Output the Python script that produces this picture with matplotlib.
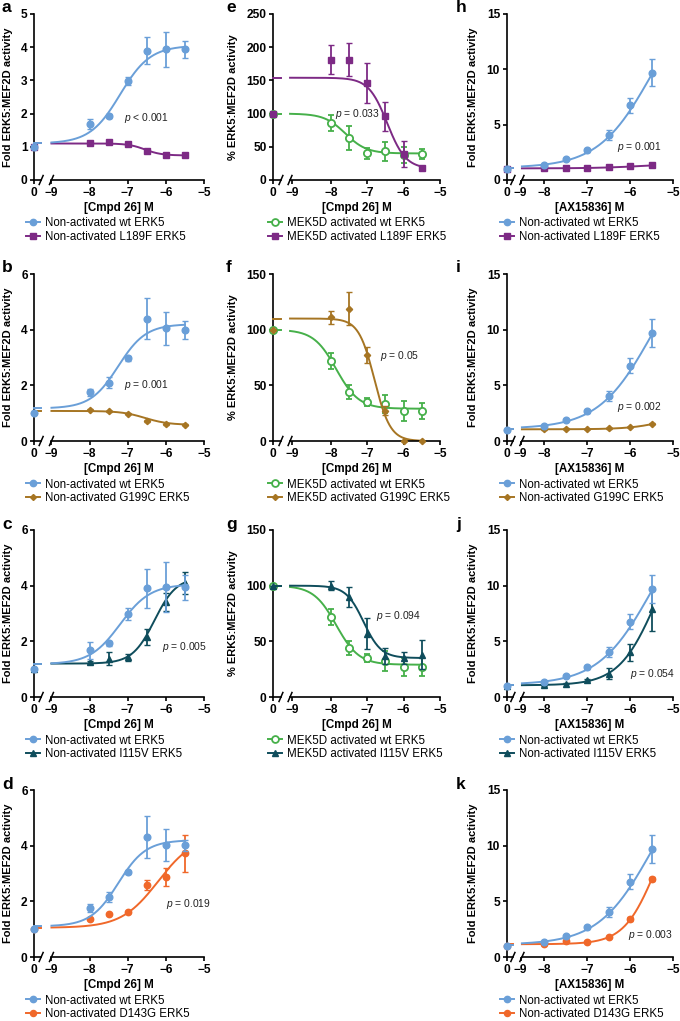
import numpy as np
import matplotlib
matplotlib.use('Agg')
import matplotlib.pyplot as plt
from matplotlib.lines import Line2D

plt.rcParams['font.family'] = ['Liberation Sans', 'DejaVu Sans']
plt.rcParams['mathtext.fontset'] = 'custom'
plt.rcParams['mathtext.it'] = 'Liberation Sans:italic'
plt.rcParams['mathtext.rm'] = 'Liberation Sans'

W, H = 680, 1021

# ---------------- data ----------------
# log10 concentration (0 = vehicle)
conc = [0, -8, -7.5, -7, -6.5, -6, -5.5]

# Cmpd 26, non-activated (fold)
a_wt = [1.0, 1.68, 1.93, 2.97, 3.90, 3.94, 3.94]
a_wt_err = [0, 0.15, 0.06, 0.12, 0.40, 0.53, 0.26]
a_mut = [1.0, 1.10, 1.15, 1.08, 0.88, 0.75, 0.74]
a_mut_err = [0, 0.05, 0.03, 0.03, 0.03, 0.03, 0.03]

b_wt = [1.0, 1.75, 2.10, 2.97, 4.40, 4.05, 4.00]
b_wt_err = [0, 0.12, 0.20, 0.10, 0.75, 0.60, 0.32]
b_mut = [1.0, 1.12, 1.07, 0.98, 0.72, 0.60, 0.58]
b_mut_err = [0, 0.02, 0.02, 0.02, 0.02, 0.02, 0.02]

c_wt = [1.0, 1.68, 1.93, 2.97, 3.90, 3.95, 3.95]
c_wt_err = [0, 0.30, 0.08, 0.22, 0.70, 0.90, 0.45]
c_mut = [1.0, 1.25, 1.38, 1.42, 2.15, 3.40, 4.10]
c_mut_err = [0, 0.05, 0.22, 0.12, 0.28, 0.32, 0.40]

d_wt = [1.0, 1.75, 2.15, 3.05, 4.32, 4.02, 4.02]
d_wt_err = [0, 0.15, 0.17, 0.05, 0.75, 0.58, 0.20]
d_mut = [1.0, 1.37, 1.53, 1.62, 2.60, 2.88, 3.72]
d_mut_err = [0, 0.03, 0.03, 0.03, 0.18, 0.33, 0.67]

# Cmpd 26, MEK5D activated (%)
e_wt = [100, 86, 63, 40, 43, 37, 39]
e_wt_err = [0, 12, 18, 8, 14, 12, 8]
e_mut = [100, 181, 181, 146, 96, 39, 18]
e_mut_err = [0, 22, 25, 30, 22, 20, 3]

f_wt = [100, 72, 44, 35, 33, 27, 27]
f_wt_err = [0, 7, 6, 4, 8, 9, 7]
f_mut = [100, 111, 119, 77, 27, 0, 0]
f_mut_err = [0, 6, 15, 7, 4, 0, 0]

g_wt = [100, 72, 44, 35, 32, 27, 27]
g_wt_err = [0, 7, 6, 4, 9, 8, 8]
g_mut = [100, 100, 90, 57, 37, 35, 38]
g_mut_err = [0, 4, 9, 14, 7, 5, 13]

# AX15836, non-activated (fold)
hk_wt = [1.0, 1.36, 1.90, 2.67, 4.07, 6.75, 9.70]
hk_wt_err = [0, 0.08, 0.08, 0.12, 0.45, 0.67, 1.25]
h_mut = [1.0, 1.05, 1.10, 1.10, 1.17, 1.22, 1.32]
h_mut_err = [0, 0.04, 0.04, 0.04, 0.04, 0.04, 0.05]
i_mut = [1.0, 1.05, 1.10, 1.08, 1.15, 1.25, 1.55]
i_mut_err = [0, 0.03, 0.03, 0.03, 0.03, 0.03, 0.05]
j_mut = [1.0, 1.05, 1.20, 1.50, 2.10, 4.00, 7.90]
j_mut_err = [0, 0.05, 0.05, 0.08, 0.50, 0.80, 1.95]
k_mut = [1.0, 1.15, 1.45, 1.35, 1.80, 3.40, 7.00]
k_mut_err = [0, 0.05, 0.08, 0.05, 0.10, 0.15, 0.20]

# fitted curve parameters: (left plateau, right plateau, logEC50, hill)
a_wt_fit = (1.10, 4.05, -7.2, 1.1)
a_mut_fit = (1.10, 0.74, -6.55, 2.0)
b_wt_fit = (1.17, 4.20, -7.25, 1.2)
b_mut_fit = (1.08, 0.58, -6.55, 1.4)
c_wt_fit = (1.18, 4.05, -7.2, 1.1)
c_mut_fit = (1.20, 4.30, -6.3, 1.5)
d_wt_fit = (1.10, 4.20, -7.25, 1.2)
d_mut_fit = (1.05, 4.40, -6.2, 0.9)
e_wt_fit = (100, 40, -7.6, 1.5)
e_mut_fit = (154, 17, -6.45, 1.7)
f_wt_fit = (100, 29, -7.85, 1.4)
f_mut_fit = (110, 0, -6.8, 2.0)
g_wt_fit = (100, 29, -7.85, 1.4)
g_mut_fit = (100, 35, -7.1, 1.8)
hk_wt_fit = (1.10, 18.0, -5.5, 0.7)
h_mut_fit = (1.05, 1.5, -5.7, 0.8)
i_mut_fit = (1.05, 3.0, -5.0, 1.0)
j_mut_fit = (1.05, 16.0, -5.4, 1.0)
k_mut_fit = (1.15, 14.1, -5.43, 1.2)

p_texts = {'a': 'p < 0.001', 'b': 'p = 0.001', 'c': 'p = 0.005', 'd': 'p = 0.019',
           'e': 'p = 0.033', 'f': 'p = 0.05', 'g': 'p = 0.094',
           'h': 'p = 0.001', 'i': 'p = 0.002', 'j': 'p = 0.054', 'k': 'p = 0.003'}

x_tick_labels = ['0', '\u22129', '\u22128', '\u22127', '\u22126', '\u22125']

# ---------------- styles ----------------
BLUE = '#6a9fd8'
PURPLE = '#7d2a85'
BROWN = '#a67523'
TEAL = '#0f4d5c'
ORANGE = '#f0682a'
GREEN = '#46b04a'

sty_wt = dict(color=BLUE, marker='o', ms=4.8, mfc=BLUE)
sty_green = dict(color=GREEN, marker='o', ms=5.2, mfc='white', mew=1.3)
sty = {'L189F': dict(color=PURPLE, marker='s', ms=4.5, mfc=PURPLE),
       'G199C': dict(color=BROWN, marker='D', ms=3.2, mfc=BROWN),
       'I115V': dict(color=TEAL, marker='^', ms=4.8, mfc=TEAL),
       'D143G': dict(color=ORANGE, marker='o', ms=4.6, mfc=ORANGE)}

# column geometry (px) and x-axis layout
cols = {
    1: dict(l=34.3, r=204.0, x0=-9.45, xb1=-9.27, xb2=-9.0, t9=-9.0),
    2: dict(l=273.3, r=440.0, x0=-9.58, xb1=-9.37, xb2=-9.12, t9=-9.07),
    3: dict(l=506.7, r=673.3, x0=-8.874, xb1=-8.73, xb2=-8.52, t9=-8.55),
}
rows = {1: (14, 180), 2: (274, 441), 3: (530, 697), 4: (790, 957)}


def logistic(x, s, e, ec, h):
    return s + (e - s) / (1.0 + 10 ** ((ec - x) * h))


panels = [
    dict(L='a', col=1, row=1, ymax=5, ystep=1, wt=(a_wt, a_wt_err, a_wt_fit), mk='L189F',
         mut=(a_mut, a_mut_err, a_mut_fit), p=(-7.1, 1.88), act=False),
    dict(L='b', col=1, row=2, ymax=6, ystep=2, wt=(b_wt, b_wt_err, b_wt_fit), mk='G199C',
         mut=(b_mut, b_mut_err, b_mut_fit), p=(-7.1, 2.0), act=False),
    dict(L='c', col=1, row=3, ymax=6, ystep=2, wt=(c_wt, c_wt_err, c_wt_fit), mk='I115V',
         mut=(c_mut, c_mut_err, c_mut_fit), p=(-6.1, 1.81), act=False),
    dict(L='d', col=1, row=4, ymax=6, ystep=2, wt=(d_wt, d_wt_err, d_wt_fit), mk='D143G',
         mut=(d_mut, d_mut_err, d_mut_fit), p=(-6.0, 1.89), act=False),
    dict(L='e', col=2, row=1, ymax=250, ystep=50, wt=(e_wt, e_wt_err, e_wt_fit), mk='L189F',
         mut=(e_mut, e_mut_err, e_mut_fit), p=(-7.88, 100), act=True),
    dict(L='f', col=2, row=2, ymax=150, ystep=50, wt=(f_wt, f_wt_err, f_wt_fit), mk='G199C',
         mut=(f_mut, f_mut_err, f_mut_fit), p=(-6.65, 76), act=True),
    dict(L='g', col=2, row=3, ymax=150, ystep=50, wt=(g_wt, g_wt_err, g_wt_fit), mk='I115V',
         mut=(g_mut, g_mut_err, g_mut_fit), p=(-6.77, 72.7), act=True),
    dict(L='h', col=3, row=1, ymax=15, ystep=5, wt=(hk_wt, hk_wt_err, hk_wt_fit), mk='L189F',
         mut=(h_mut, h_mut_err, h_mut_fit), p=(-6.31, 3.0), act=False),
    dict(L='i', col=3, row=2, ymax=15, ystep=5, wt=(hk_wt, hk_wt_err, hk_wt_fit), mk='G199C',
         mut=(i_mut, i_mut_err, i_mut_fit), p=(-6.31, 3.06), act=False),
    dict(L='j', col=3, row=3, ymax=15, ystep=5, wt=(hk_wt, hk_wt_err, hk_wt_fit), mk='I115V',
         mut=(j_mut, j_mut_err, j_mut_fit), p=(-6.0, 2.1), act=False),
    dict(L='k', col=3, row=4, ymax=15, ystep=5, wt=(hk_wt, hk_wt_err, hk_wt_fit), mk='D143G',
         mut=(k_mut, k_mut_err, k_mut_fit), p=(-6.05, 1.95), act=False),
]

letter_x = {1: 2, 2: 226, 3: 456}
letter_base = {1: 12.5, 2: 272, 3: 529, 4: 789}
ylabel_off = {1: 26, 2: 40, 3: 34}
legend_x = {1: 26, 2: 268, 3: 500}

fig = plt.figure(figsize=(W / 100, H / 100), dpi=100)


def draw_series(ax, cfg, data, style, z):
    y, err, fit = data
    xs = [cfg['x0'] if c == 0 else c for c in conc]
    xc = np.linspace(cfg['xb2'], max(conc[1:]), 300)
    ax.plot(xc, logistic(xc, *fit), color=style['color'], lw=1.4, zorder=z)
    ax.plot([cfg['x0'], cfg['xb1']], [fit[0], fit[0]], color=style['color'], lw=1.4,
            zorder=z, clip_on=False)
    ax.errorbar(xs, y, yerr=err, fmt=style['marker'], color=style['color'], ms=style['ms'],
                mfc=style['mfc'], mec=style['color'], mew=style.get('mew', 1.0),
                capsize=2.5, elinewidth=1.3, capthick=1.3, zorder=z + 1, clip_on=False)


for P in panels:
    cfg = cols[P['col']]
    top, bot = rows[P['row']]
    rect = [cfg['l'] / W, 1 - bot / H, (cfg['r'] - cfg['l']) / W, (bot - top) / H]
    ax = fig.add_axes(rect)
    ax.set_xlim(cfg['x0'], -5)
    ax.set_ylim(0, P['ymax'])
    wpx = cfg['r'] - cfg['l']
    hpx = bot - top

    mut_style = sty[P['mk']]
    if P['act']:
        draw_series(ax, cfg, P['wt'], sty_green, 3)
        draw_series(ax, cfg, P['mut'], mut_style, 5)
        wt_style = sty_green
        lab1 = 'MEK5D activated wt ERK5'
        lab2 = 'MEK5D activated %s ERK5' % P['mk']
    else:
        draw_series(ax, cfg, P['mut'], mut_style, 3)
        draw_series(ax, cfg, P['wt'], sty_wt, 5)
        wt_style = sty_wt
        lab1 = 'Non-activated wt ERK5'
        lab2 = 'Non-activated %s ERK5' % P['mk']

    # spines and broken x axis
    for s in ['top', 'right', 'bottom']:
        ax.spines[s].set_visible(False)
    ax.spines['left'].set_linewidth(1.2)
    ax.plot([cfg['x0'], cfg['xb1']], [0, 0], color='black', lw=1.2, clip_on=False, zorder=6)
    ax.plot([cfg['xb2'], -5], [0, 0], color='black', lw=1.2, clip_on=False, zorder=6)
    dx = 2.2 * 4.0 / wpx * (1 if P['col'] != 3 else 0.9)
    dy = 4.5 * P['ymax'] / hpx
    for xb in (cfg['xb1'], cfg['xb2']):
        ax.plot([xb - dx, xb + dx], [-dy, dy], color='black', lw=1.1, clip_on=False, zorder=6)

    ax.set_xticks([cfg['x0'], cfg['t9'], -8, -7, -6, -5])
    ax.set_xticklabels(x_tick_labels)
    ax.set_yticks(np.arange(0, P['ymax'] + 0.01, P['ystep']))
    ax.tick_params(axis='both', direction='out', length=3.0, width=1.2, labelsize=8.6, pad=1.8)
    for t in ax.get_xticklabels() + ax.get_yticklabels():
        t.set_fontweight('bold')

    ax.set_xlabel('[Cmpd 26] M' if P['col'] < 3 else '[AX15836] M', fontsize=8.4,
                  fontweight='bold')
    ax.xaxis.label.set_va('center')
    ax.xaxis.set_label_coords(0.5, -28.0 / hpx)
    ax.set_ylabel('% ERK5:MEF2D activity' if P['col'] == 2 else 'Fold ERK5:MEF2D activity',
                  fontsize=8.0, fontweight='bold')
    ax.yaxis.label.set_va('center')
    ax.yaxis.set_label_coords(-ylabel_off[P['col']] / wpx, 0.5)

    ptxt = p_texts[P['L']]
    ax.text(P['p'][0], P['p'][1], r'$\it{p}$' + ptxt[1:], fontsize=7.4, ha='left',
            va='center', color='#222222', zorder=8)

    fig.text(letter_x[P['col']] / W, 1 - letter_base[P['row']] / H, P['L'],
             fontsize=12.5, fontweight='bold', ha='left', va='baseline')

    handles = [Line2D([0], [0], color=wt_style['color'], marker=wt_style['marker'],
                      ms=wt_style['ms'] * 0.95, mfc=wt_style['mfc'], mew=wt_style.get('mew', 1.0),
                      lw=1.4),
               Line2D([0], [0], color=mut_style['color'], marker=mut_style['marker'],
                      ms=mut_style['ms'] * 0.95, mfc=mut_style['mfc'], lw=1.4)]
    fig.legend(handles, [lab1, lab2], loc='upper left',
               bbox_to_anchor=(legend_x[P['col']] / W, 1 - (bot + 37.5) / H),
               frameon=False, fontsize=8.3, handlelength=1.2, handletextpad=0.45,
               labelspacing=0.15, borderpad=0, borderaxespad=0)

fig.savefig('out.png', dpi=100)
